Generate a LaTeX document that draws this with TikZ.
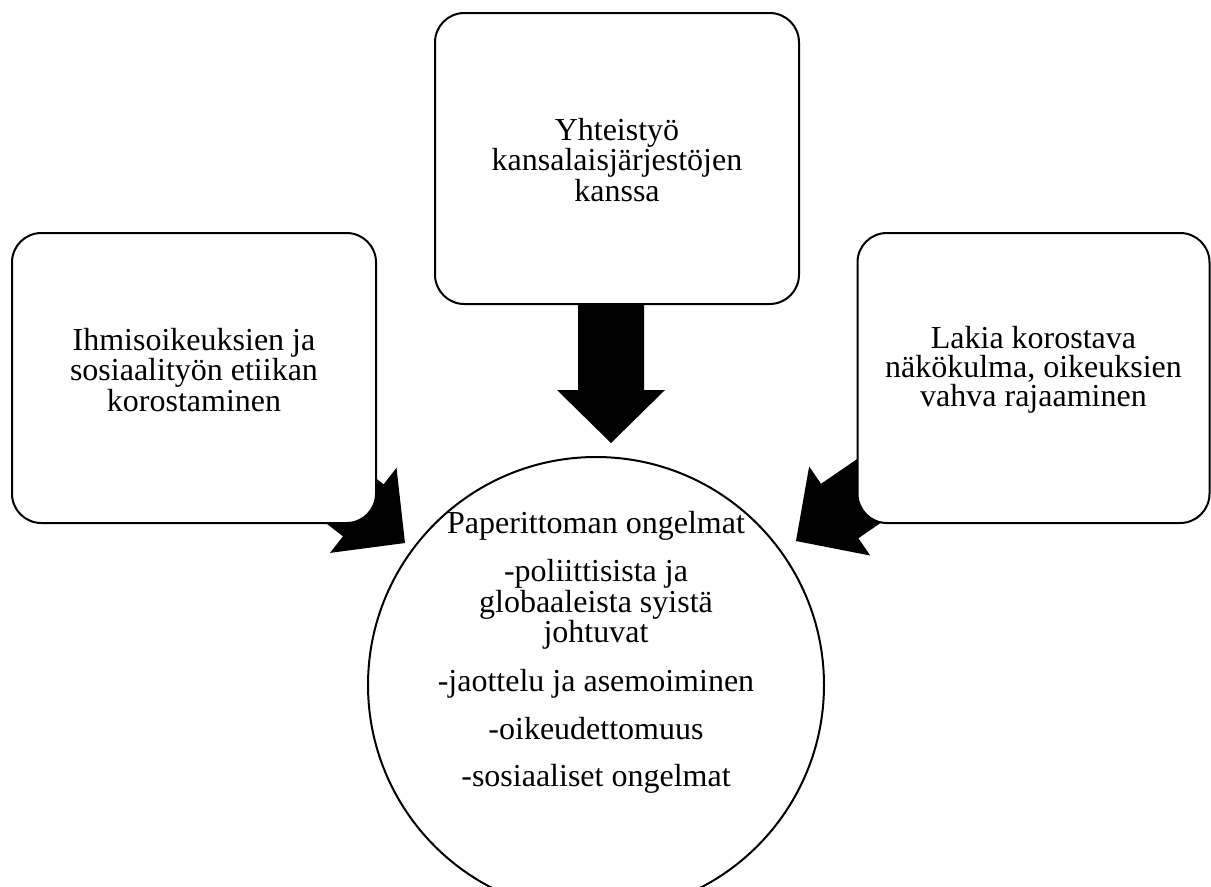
\documentclass[tikz,border=0pt]{standalone}
\usepackage{fontspec}
\setmainfont{Liberation Serif}
\usetikzlibrary{calc,backgrounds}
\newcommand\blockarrowpath[3]{%
  \coordinate (#1-b) at ($(#3)!39.75pt!(#2)$);
  \fill[black] ($(#2)!24.75pt!90:(#3)$) -- ($(#1-b)!24.75pt!90:(#3)$) -- ($(#1-b)!40.5pt!90:(#3)$) -- (#3)
    -- ($(#1-b)!40.5pt!-90:(#3)$) -- ($(#1-b)!24.75pt!-90:(#3)$) -- ($(#2)!24.75pt!-90:(#3)$) -- cycle;
}
\begin{document}
\begin{tikzpicture}[x=0.75pt,y=-0.75pt,
  txt/.style={align=center, inner sep=0pt, font=\fontsize{24}{21.75}\selectfont},
  box/.style={draw=black, line width=1.5pt, rounded corners=22pt, fill=white, inner sep=0pt}]
\useasboundingbox (0,0) rectangle (1211,886);
\clip (0,0) rectangle (1211,886);
\node[box, minimum width=273pt, minimum height=218.25pt] (top) at (617,158.5) {};
\node[box, minimum width=273pt, minimum height=217.5pt] (left) at (194,378) {};
\node[box, minimum width=264pt, minimum height=217.5pt] (right) at (1033.5,378) {};
\node[txt] (topt) at (617,160) {Yhteistyö\\kansalaisjärjestöjen\\kanssa};
\node[txt] (leftt) at (194,370) {Ihmisoikeuksien ja\\sosiaalityön etiikan\\korostaminen};
\node[txt] (rightt) at (1033.5,370) {Lakia korostava\\näkökulma, oikeuksien\\vahva rajaaminen};
\node[draw, circle, line width=1.5pt, minimum size=342pt, inner sep=0pt] (prob) at (596,685) {};
\node[txt, anchor=north] (probtext) at (596,511) {Paperittoman ongelmat\\[13.5pt]-poliittisista ja\\globaaleista syistä\\johtuvat\\[13.5pt]-jaottelu ja asemoiminen\\[13.5pt]-oikeudettomuus\\[13.5pt]-sosiaaliset ongelmat};
\coordinate (tstart) at (611,158.5);
\coordinate (ttip) at (611,443);
\coordinate (ltip) at (405,543);
\coordinate (rtip) at (796,541);
\begin{pgfonlayer}{background}
  \blockarrowpath{ta}{tstart}{ttip}
  \blockarrowpath{la}{left.center}{ltip}
  \blockarrowpath{ra}{right.center}{rtip}
\end{pgfonlayer}
\end{tikzpicture}
\end{document}
